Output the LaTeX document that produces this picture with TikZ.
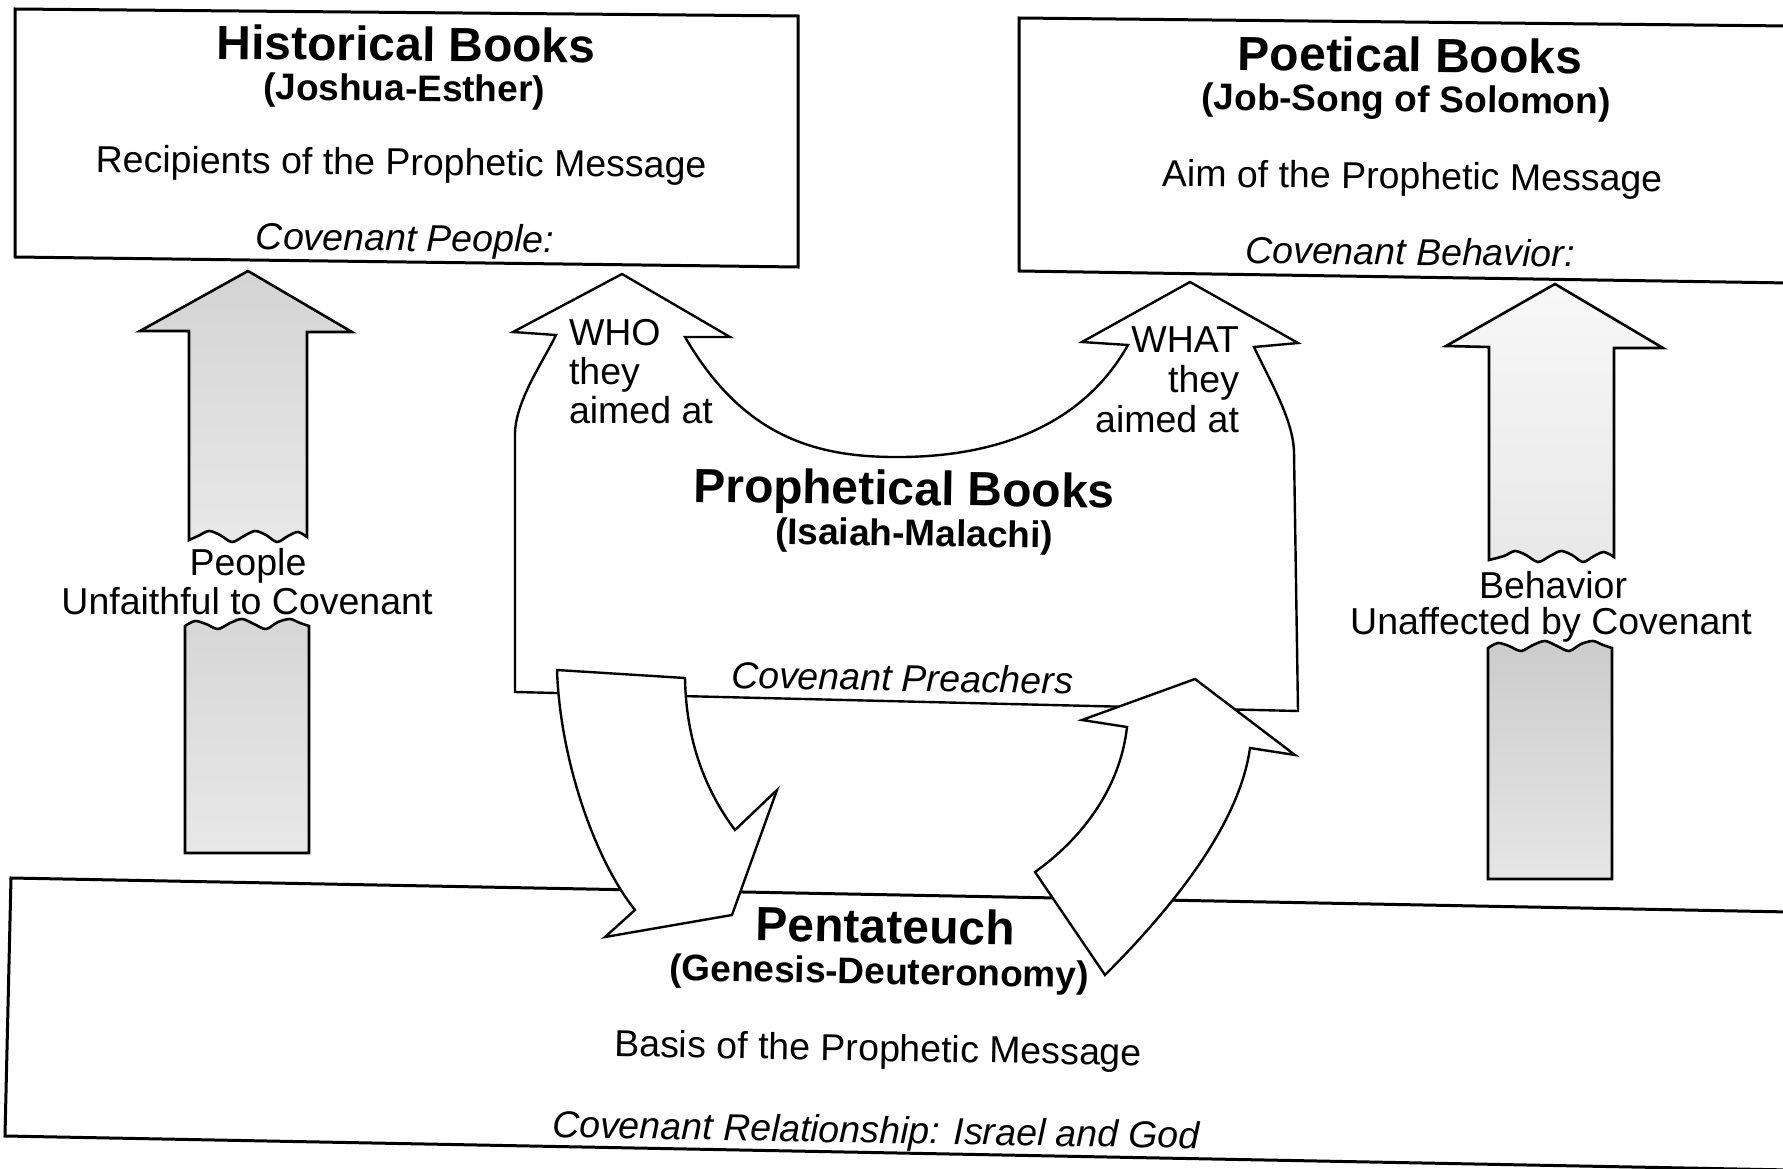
\documentclass[tikz,border=0pt]{standalone}
\usepackage{fontspec}
\setmainfont{Liberation Sans}
\usetikzlibrary{shadings}
\newcommand{\myTitle}{\fontsize{48}{52}\bfseries\selectfont}
\newcommand{\mySub}{\fontsize{37}{40}\bfseries\selectfont}
\newcommand{\myBody}{\fontsize{37.5}{40}\selectfont}
\newcommand{\myItal}{\fontsize{37.5}{40}\itshape\selectfont}
\begin{document}
\begin{tikzpicture}[x=1pt,y=-1pt,
  txt/.style={inner sep=0pt, outer sep=0pt, anchor=base},
  boxline/.style={line width=3pt, line join=miter},
  outl/.style={line width=2.4pt, line join=miter, fill=white},
  grayarrow/.style={line width=2.6pt, line join=miter}]
\fill[white] (0,0) rectangle (1783,1169);
\useasboundingbox (0,0) rectangle (1783,1169);
\clip (0,0) rectangle (1783,1169);

% ---------- boxes ----------
\draw[boxline] (15,9) -- (798,16) -- (798,267) -- (15,257) -- cycle;
\draw[boxline] (1790,26) -- (1019,18) -- (1019,271) -- (1790,283);
\draw[boxline] (1790,912) -- (11,878) -- (5,1136) -- (1790,1170);

% ---------- prophetical shape ----------
\draw[outl] (515,692) -- (515,433)
  .. controls (516,400) and (543,362) .. (556,335)
  -- (513,332) -- (622,274) -- (730,337) -- (685,337)
  .. controls (745,440) and (820,458) .. (903,457)
  .. controls (990,456) and (1080,430) .. (1128,345)
  -- (1082,342) -- (1190,282) -- (1298,343) -- (1254,347)
  .. controls (1272,385) and (1293,420) .. (1294,452)
  -- (1298,711) -- cycle;

% ---------- curved arrows ----------
\draw[outl] (557,670) .. controls (560,760) and (595,860) .. (635,910)
  -- (605,937) -- (732,915) -- (777,790) -- (735,830)
  .. controls (705,790) and (686,740) .. (685,678) -- cycle;
\draw[outl] (1105,975) .. controls (1180,900) and (1240,820) .. (1250,748)
  -- (1295,755) -- (1195,679) -- (1082,720) -- (1127,727)
  .. controls (1120,790) and (1080,840) .. (1035,872) -- cycle;

% ---------- left gray arrow ----------
\draw[grayarrow, top color=black!17, bottom color=black!9]
  (189,537) -- (189,331) -- (140,331) -- (248,271) -- (352,332) -- (307,332) -- (307,537)
  -- plot[smooth] coordinates {(307,537) (298,532) (288,536) (277,542) (266,535) (255,531) (244,536) (232,542) (220,535) (209,531) (198,536) (189,540)}
  -- cycle;
\draw[grayarrow, top color=black!16, bottom color=black!9]
  (185,626) -- plot[smooth] coordinates {(185,626) (195,621) (206,624) (218,629) (230,623) (242,619) (254,624) (266,629) (278,622) (290,619) (300,623) (309,626)}
  -- (309,853) -- (185,853) -- cycle;

% ---------- right gray arrow ----------
\draw[grayarrow, top color=black!3, middle color=black!18, bottom color=black!9]
  (1489,557) -- (1489,347) -- (1446,346) -- (1555,284) -- (1663,348) -- (1614,348) -- (1614,557)
  -- plot[smooth] coordinates {(1614,557) (1604,552) (1594,556) (1583,562) (1572,555) (1561,551) (1550,556) (1538,562) (1526,555) (1515,551) (1504,556) (1489,560)}
  -- cycle;
\draw[grayarrow, top color=black!20, bottom color=black!10]
  (1488,648) -- plot[smooth] coordinates {(1488,648) (1498,643) (1509,646) (1521,651) (1533,645) (1545,641) (1557,646) (1569,651) (1581,644) (1593,641) (1603,645) (1612,648)}
  -- (1612,879) -- (1488,879) -- cycle;

% ---------- texts: historical ----------
\node[txt, font=\myTitle, rotate=-0.5] (histT) at (406,61) {Historical Books};
\node[txt, font=\mySub, rotate=-0.5] (histS) at (404,101) {(Joshua-Esther)};
\node[txt, font=\myBody, rotate=-0.5] (histR) at (401,175) {Recipients of the Prophetic Message};
\node[txt, font=\myItal, rotate=-0.5] (histC) at (405,251) {Covenant People:};

% ---------- texts: poetical ----------
\node[txt, font=\myTitle, rotate=-0.6] (poetT) at (1410,72) {Poetical Books};
\node[txt, font=\mySub, rotate=-0.6] (poetS) at (1406,112) {(Job-Song of Solomon)};
\node[txt, font=\myBody, rotate=-0.6] (poetA) at (1412,189) {Aim of the Prophetic Message};
\node[txt, font=\myItal, rotate=-0.6] (poetC) at (1410,265) {Covenant Behavior:};

% ---------- texts: prophetical ----------
\node[txt, anchor=base west, font=\myBody] (who1) at (569,345) {WHO};
\node[txt, anchor=base west, font=\myBody] (who2) at (569,384) {they};
\node[txt, anchor=base west, font=\myBody] (who3) at (569,423) {aimed at};
\node[txt, anchor=base east, font=\myBody] (what1) at (1239,352) {WHAT};
\node[txt, anchor=base east, font=\myBody] (what2) at (1239,392) {they};
\node[txt, anchor=base east, font=\myBody] (what3) at (1239,432) {aimed at};
\node[txt, font=\myTitle, rotate=-0.8] (propT) at (904,505) {Prophetical Books};
\node[txt, font=\mySub, rotate=-0.8] (propS) at (914,546) {(Isaiah-Malachi)};
\node[txt, font=\myItal, rotate=-1] (propC) at (902,691) {Covenant Preachers};

% ---------- texts: arrows ----------
\node[txt, font=\myBody] (peo1) at (248,575) {People};
\node[txt, font=\myBody] (peo2) at (247,614) {Unfaithful to Covenant};
\node[txt, font=\myBody] (beh1) at (1553,598) {Behavior};
\node[txt, font=\myBody] (beh2) at (1551,634) {Unaffected by Covenant};

% ---------- texts: pentateuch ----------
\node[txt, font=\myTitle, rotate=-1] (penT) at (885,943) {Pentateuch};
\node[txt, font=\mySub, rotate=-1] (penS) at (879,984) {(Genesis-Deuteronomy)};
\node[txt, font=\myBody, rotate=-1] (penB) at (878,1061) {Basis of the Prophetic Message};
\node[txt, font=\myItal, rotate=-1] (penC) at (876,1143) {Covenant Relationship: Israel and God};
\end{tikzpicture}
\end{document}
